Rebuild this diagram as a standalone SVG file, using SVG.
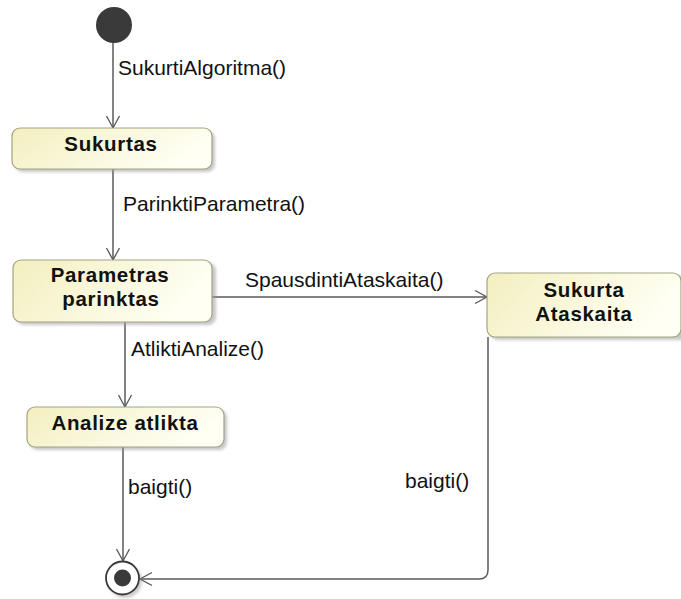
<svg xmlns="http://www.w3.org/2000/svg" width="681" height="599" viewBox="0 0 681 599">
<defs>
<linearGradient id="g" x1="0" y1="0" x2="1" y2="0.3">
<stop offset="0" stop-color="#f3efbf"/>
<stop offset="1" stop-color="#fffff4"/>
</linearGradient>
<filter id="sh" x="-10%" y="-20%" width="130%" height="150%">
<feGaussianBlur stdDeviation="1.6"/>
</filter>
<marker id="ar" markerWidth="16" markerHeight="16" refX="14" refY="8" orient="auto" markerUnits="userSpaceOnUse">
<path d="M2,1.5 L14,8 L2,14.5" fill="none" stroke="#555" stroke-width="1.3"/>
</marker>
<style>
.st{fill:url(#g);stroke:#a3a383;stroke-width:1.2}
.sd{fill:#9a9a9a;opacity:0.55;filter:url(#sh)}
.nt{font-family:"Liberation Sans",Arial,sans-serif;font-weight:bold;font-size:20.5px;letter-spacing:0.7px;fill:#111;text-anchor:middle}
.lb{font-family:"Liberation Sans",Arial,sans-serif;font-size:21px;fill:#111}
.ln{fill:none;stroke:#5a5a5a;stroke-width:1.5}
</style>
</defs>
<rect width="681" height="599" fill="#fff"/>
<g id="connectors">
<line class="ln" x1="113" y1="42" x2="113" y2="128" marker-end="url(#ar)"/>
<text class="lb" x="118" y="75">SukurtiAlgoritma()</text>
<line class="ln" x1="113" y1="169" x2="113" y2="260" marker-end="url(#ar)"/>
<text class="lb" x="123" y="211">ParinktiParametra()</text>
<line class="ln" x1="212" y1="297" x2="487" y2="297" marker-end="url(#ar)"/>
<text class="lb" x="245" y="287">SpausdintiAtaskaita()</text>
<line class="ln" x1="125" y1="322" x2="125" y2="407" marker-end="url(#ar)"/>
<text class="lb" x="131" y="356">AtliktiAnalize()</text>
<line class="ln" x1="123" y1="447" x2="123" y2="561" marker-end="url(#ar)"/>
<text class="lb" x="128" y="494">baigti()</text>
<path class="ln" d="M488,337 L488,570 Q488,579 479,579 L140,579" marker-end="url(#ar)"/>
<text class="lb" x="405" y="488">baigti()</text>
</g>
<g id="initial">
<circle cx="114" cy="25" r="18" fill="#3a3a3a"/>
</g>
<g id="sukurtas">
<rect class="sd" x="15" y="131" width="200" height="41" rx="8"/>
<rect class="st" x="12" y="128" width="200" height="41" rx="8"/>
<text class="nt" x="111" y="151">Sukurtas</text>
</g>
<g id="parametras">
<rect class="sd" x="16" y="263" width="200" height="62" rx="8"/>
<rect class="st" x="13" y="260" width="199" height="62" rx="8"/>
<text class="nt" x="110" y="282">Parametras</text>
<text class="nt" x="111" y="306">parinktas</text>
</g>
<g id="sukurta-ataskaita">
<rect class="sd" x="490" y="276" width="200" height="64" rx="8"/>
<rect class="st" x="487" y="273" width="194" height="64" rx="8"/>
<text class="nt" x="584" y="297">Sukurta</text>
<text class="nt" x="584" y="321">Ataskaita</text>
</g>
<g id="analize">
<rect class="sd" x="30" y="410" width="197" height="40" rx="8"/>
<rect class="st" x="27" y="407" width="197" height="40" rx="8"/>
<text class="nt" x="125" y="430">Analize atlikta</text>
</g>
<g id="final">
<circle cx="125" cy="581" r="17" fill="#9a9a9a" opacity="0.5" filter="url(#sh)"/>
<circle cx="122.5" cy="578" r="16.5" fill="#fff" stroke="#3a3a3a" stroke-width="1.8"/>
<circle cx="122.5" cy="578" r="8.5" fill="#3a3a3a"/>
</g>
</svg>
